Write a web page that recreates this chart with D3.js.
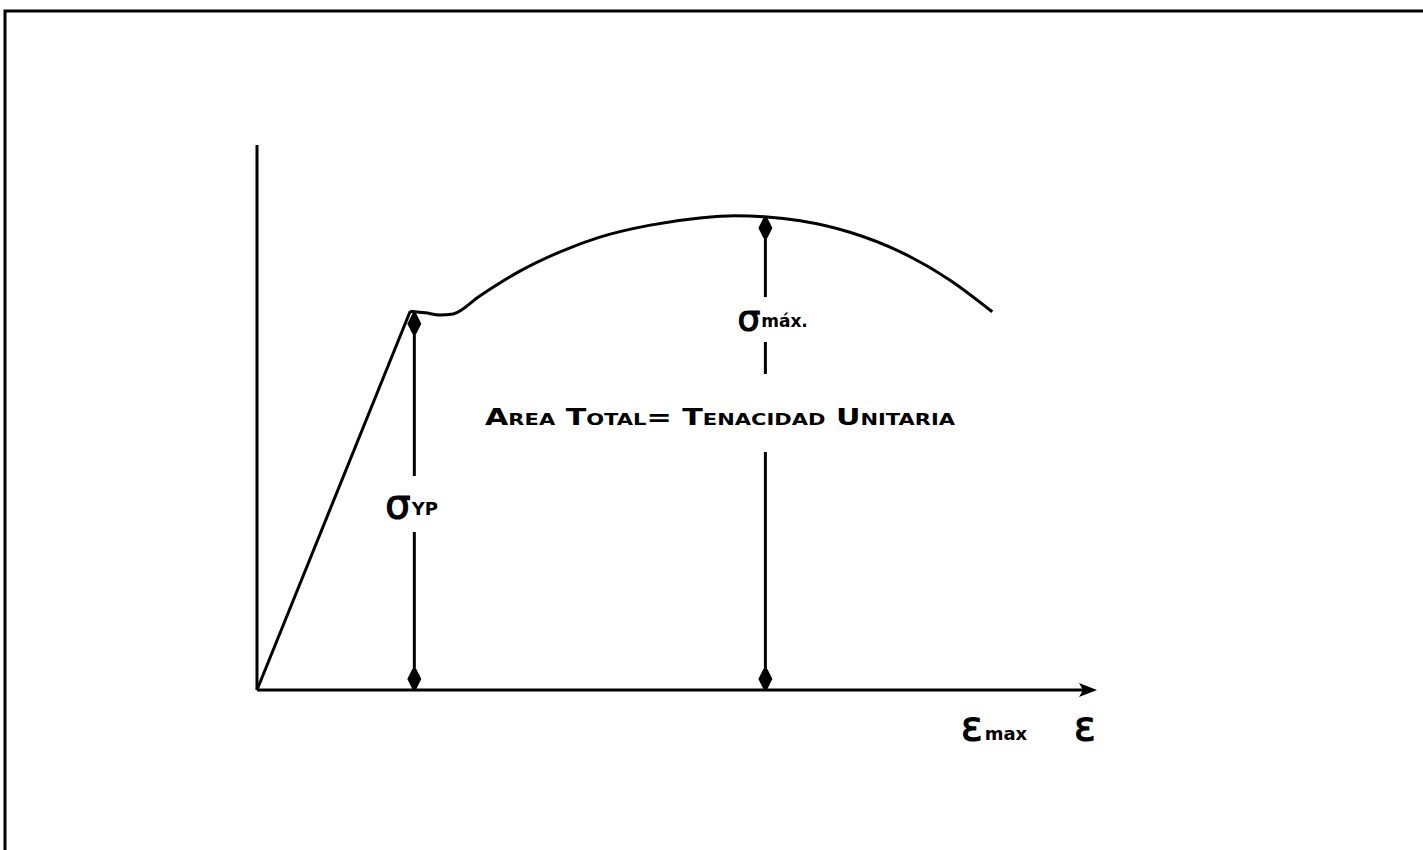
<!DOCTYPE html>
<html><head><meta charset="utf-8">
<script src="https://cdn.jsdelivr.net/npm/d3@7"></script>
<style>
html,body{margin:0;padding:0;background:#fff;overflow:hidden;}
svg{display:block;}
</style></head>
<body>
<script>
// ---- data (strain / stress in arbitrary schematic units) ----
const strain = [0, 1.85, 2.03, 2.21, 2.37, 2.69, 3.18, 3.66, 4.14, 4.75, 5.35, 5.77, 6.16, 6.56, 7.16, 7.77, 8.37, 8.88];
const stress = [0, 6.95, 6.92, 6.88, 6.90, 7.23, 7.69, 8.04, 8.31, 8.53, 8.66, 8.70, 8.68, 8.61, 8.40, 8.04, 7.52, 6.94];
const arrowLabels = ["σ", "σ"];
const arrowSubs = ["YP", "máx."];
const arrowStrain = [1.90, 6.14];
const arrowStress = [6.92, 8.68];
const areaText = "Area Total= Tenacidad Unitaria";
const axisLabelX = "ε";
const strainMaxLabel = ["ε", "max"];

const W = 1423, H = 850;
const svg = d3.select("body").append("svg").attr("width", W).attr("height", H);

// frame (top and left edges only)
svg.append("path").attr("d", `M5,${H} L5,11 L${W},11`).attr("fill","none").attr("stroke","#000").attr("stroke-width",3);

const x = d3.scaleLinear().domain([0, 10]).range([257, 1085]);
const y = d3.scaleLinear().domain([0, 10]).range([690, 145]);

const ink = "#000";
// axes
svg.append("line").attr("x1", x(0)).attr("x2", x(0)).attr("y1", y(0)).attr("y2", y(10))
  .attr("stroke", ink).attr("stroke-width", 3);
svg.append("line").attr("x1", x(0)).attr("x2", x(10)).attr("y1", y(0)).attr("y2", y(0))
  .attr("stroke", ink).attr("stroke-width", 3);
// x-axis arrowhead
const ax = x(10), ay = y(0);
svg.append("path").attr("d", `M${ax-6},${ay-7} L${ax+12},${ay} L${ax-6},${ay+7} L${ax-2},${ay} Z`).attr("fill", ink);

// curve
const pts = strain.map((s,i)=>[s, stress[i]]);
const line = d3.line().x(d=>x(d[0])).y(d=>y(d[1])).curve(d3.curveMonotoneX);
svg.append("path").datum(pts.slice(1)).attr("d", line).attr("fill","none").attr("stroke",ink).attr("stroke-width",3).attr("stroke-linejoin","round");
svg.append("line").attr("x1", x(0)).attr("y1", y(0)).attr("x2", x(strain[1])).attr("y2", y(stress[1]))
  .attr("stroke", ink).attr("stroke-width", 3);

function arrowHead(cx, tipY, dir){ // dir -1 = up, +1 = down
  const L = 21, w = 7;
  const base = tipY - dir*L;
  return `M${cx-1.5},${tipY} L${cx-3},${tipY - dir*3} L${cx-w},${tipY - dir*11} L${cx-2},${base} L${cx+2},${base} L${cx+w},${tipY - dir*11} L${cx+3},${tipY - dir*3} L${cx+1.5},${tipY} Z`;
}

// sigma YP arrow (with gap for label)
{
  const cx = x(arrowStrain[0]);
  const top = y(arrowStress[0]), bot = y(0);
  svg.append("line").attr("x1",cx).attr("x2",cx).attr("y1",top).attr("y2",476).attr("stroke",ink).attr("stroke-width",3);
  svg.append("line").attr("x1",cx).attr("x2",cx).attr("y1",532).attr("y2",bot).attr("stroke",ink).attr("stroke-width",3);
  svg.append("path").attr("d", arrowHead(cx, top, -1)).attr("fill", ink);
  svg.append("path").attr("d", arrowHead(cx, bot, 1)).attr("fill", ink);
  const t = svg.append("text").attr("x", cx-29).attr("y", 518).attr("font-family","DejaVu Sans").attr("fill",ink);
  t.append("tspan").attr("font-size",40).attr("stroke",ink).attr("stroke-width",1.2).text(arrowLabels[0]);
  t.append("tspan").attr("font-size",18).attr("font-weight","bold").attr("dx",1).attr("dy",-3).text(arrowSubs[0]);
}
// sigma max arrow
{
  const cx = x(arrowStrain[1]);
  const top = y(arrowStress[1]), bot = y(0);
  svg.append("line").attr("x1",cx).attr("x2",cx).attr("y1",top).attr("y2",297).attr("stroke",ink).attr("stroke-width",3);
  svg.append("line").attr("x1",cx).attr("x2",cx).attr("y1",342).attr("y2",374).attr("stroke",ink).attr("stroke-width",3);
  svg.append("line").attr("x1",cx).attr("x2",cx).attr("y1",452).attr("y2",bot).attr("stroke",ink).attr("stroke-width",3);
  svg.append("path").attr("d", arrowHead(cx, top, -1)).attr("fill", ink);
  svg.append("path").attr("d", arrowHead(cx, bot, 1)).attr("fill", ink);
  const t = svg.append("text").attr("x", cx-28).attr("y", 331).attr("font-family","DejaVu Sans").attr("fill",ink);
  t.append("tspan").attr("font-size",36).attr("stroke",ink).attr("stroke-width",1.2).text(arrowLabels[1]);
  t.append("tspan").attr("font-size",17).attr("font-weight","bold").attr("dx",1).attr("dy",-4).text(arrowSubs[1]);
}

// area text
svg.append("text").attr("x", 485).attr("y", 425).attr("font-family","DejaVu Sans").attr("font-weight","bold")
  .attr("font-size",23).style("font-variant","small-caps").attr("textLength",470).attr("lengthAdjust","spacingAndGlyphs")
  .attr("fill",ink).text(areaText);

// epsilon labels
{
  const t = svg.append("text").attr("x", 961).attr("y", 740).attr("font-family","DejaVu Sans").attr("fill",ink);
  t.append("tspan").attr("font-size",40).attr("stroke",ink).attr("stroke-width",1.2).text(strainMaxLabel[0]);
  t.append("tspan").attr("font-size",18).attr("font-weight","bold").attr("dx",2).text(strainMaxLabel[1]);
  svg.append("text").attr("x", 1074).attr("y", 740).attr("font-family","DejaVu Sans").attr("font-size",40)
    .attr("stroke",ink).attr("stroke-width",1.2).attr("fill",ink).text(axisLabelX);
}
</script>
</body></html>
